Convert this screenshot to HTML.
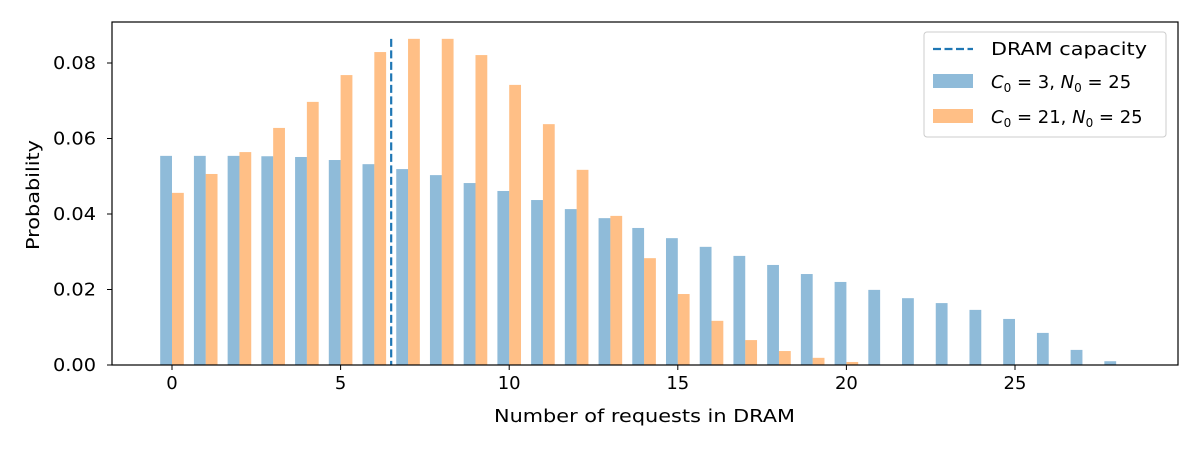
<!DOCTYPE html>
<html><head><meta charset="utf-8"><style>
body{margin:0;background:#fff;}
svg{display:block;font-family:"DejaVu Sans","Liberation Sans",sans-serif;}
</style></head><body>
<svg id="chart" width="1200" height="450"></svg>
<script>
const categories=[0,1,2,3,4,5,6,7,8,9,10,11,12,13,14,15,16,17,18,19,20,21,22,23,24,25,26,27,28];
const seriesA=[0.0554,0.0554,0.0554,0.0553,0.0551,0.0543,0.0532,0.0519,0.0503,0.0482,0.0461,0.0437,0.0413,0.0389,0.0363,0.0336,0.0313,0.0289,0.0265,0.0241,0.022,0.0199,0.0177,0.0164,0.0146,0.0122,0.0085,0.004,0.001];
const seriesB=[0.0456,0.0506,0.0564,0.0628,0.0697,0.0768,0.0829,0.0864,0.0864,0.0821,0.0742,0.0638,0.0517,0.0395,0.0283,0.0188,0.0117,0.0066,0.0037,0.0019,0.0008,0,0,0,0,0,0,0,0];
const xTicks=[0,5,10,15,20,25];
const yTicks=[0,0.02,0.04,0.06,0.08];
const capacity=6.5;
const NS="http://www.w3.org/2000/svg";
const svg=document.getElementById('chart');
const L=112,R=1178,T=22,B=365;
const x=v=>172+v*33.72;
const y=v=>365-v*3775;
function mk(tag,attrs,parent){const e=document.createElementNS(NS,tag);for(const k in attrs)e.setAttribute(k,attrs[k]);(parent||svg).appendChild(e);return e;}
const bw=0.35*33.72;
categories.forEach((c,i)=>{
  const a=mk('rect',{x:x(c-0.35),y:y(seriesA[i]),width:bw,height:y(0)-y(seriesA[i]),fill:'#1f77b4','fill-opacity':0.5});
  
  
  const b=mk('rect',{x:x(c),y:y(seriesB[i]),width:bw,height:y(0)-y(seriesB[i]),fill:'#ff7f0e','fill-opacity':0.5});
  
  
});
const ymax=Math.max(...seriesA,...seriesB);
const cl=mk('line',{x1:x(capacity),x2:x(capacity),y1:y(ymax),y2:B,stroke:'#1f77b4','stroke-width':2.2,'stroke-dasharray':'8,3.5'});


const fr=mk('rect',{x:L,y:T,width:R-L,height:B-T,fill:'none',stroke:'#000','stroke-width':1.2});


xTicks.forEach(t=>{
  mk('line',{x1:x(t),x2:x(t),y1:B,y2:B+5,stroke:'#000'});
  const tx=mk('text',{x:x(t),y:B+24,'text-anchor':'middle','font-size':18});
  tx.textContent=t;
  
  
});
yTicks.forEach(t=>{
  mk('line',{x1:L-5,x2:L,y1:y(t),y2:y(t),stroke:'#000'});
  const tx=mk('text',{x:L-16,y:y(t)+6,'text-anchor':'end','font-size':18,textLength:43,lengthAdjust:'spacingAndGlyphs'});
  tx.textContent=t.toFixed(2);
  
  
});
</script>
<svg style="position:absolute;left:0;top:0" width="1200" height="450">
<text x="494" y="422" font-size="18" textLength="301" lengthAdjust="spacingAndGlyphs">Number of requests in DRAM</text>
<text transform="translate(39,250) rotate(-90)" font-size="18" textLength="110" lengthAdjust="spacingAndGlyphs">Probability</text>
<g>
<rect x="924" y="32" width="242" height="105" rx="3" fill="#fff" fill-opacity="0.8" stroke="#ccc"/>
<line x1="933" x2="973" y1="49" y2="49" stroke="#1f77b4" stroke-width="2.2" stroke-dasharray="8,3.5"/>
<text x="991" y="55" font-size="18" textLength="156" lengthAdjust="spacingAndGlyphs">DRAM capacity</text>
<rect x="933" y="74" width="40" height="14" fill="#1f77b4" fill-opacity="0.5"/>
<text x="991" y="88" font-size="18"><tspan font-style="italic">C</tspan><tspan font-size="12" dy="4">0</tspan><tspan dy="-4"> = 3, </tspan><tspan font-style="italic">N</tspan><tspan font-size="12" dy="4">0</tspan><tspan dy="-4"> = 25</tspan></text>
<rect x="933" y="109" width="40" height="14" fill="#ff7f0e" fill-opacity="0.5"/>
<text x="991" y="123" font-size="18"><tspan font-style="italic">C</tspan><tspan font-size="12" dy="4">0</tspan><tspan dy="-4"> = 21, </tspan><tspan font-style="italic">N</tspan><tspan font-size="12" dy="4">0</tspan><tspan dy="-4"> = 25</tspan></text>
</g>
</svg>
</body></html>
